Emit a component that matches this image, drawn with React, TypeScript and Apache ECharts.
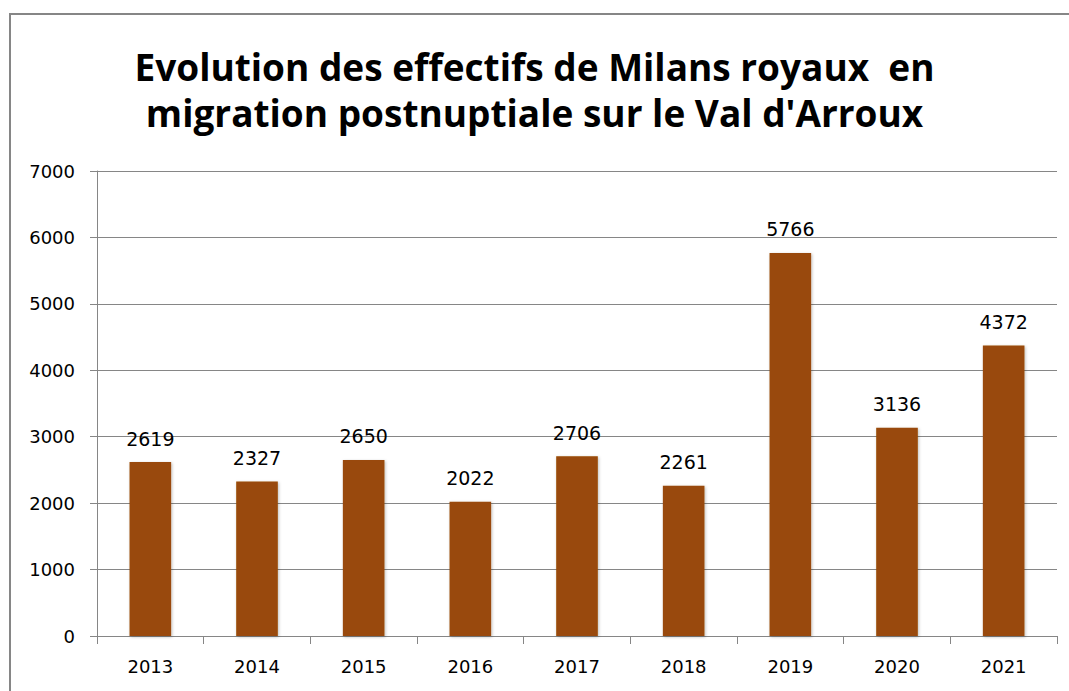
import React, { useEffect, useRef } from "react";
import * as echarts from "echarts";

const categories = ["2013", "2014", "2015", "2016", "2017", "2018", "2019", "2020", "2021"];
const values = [2619, 2327, 2650, 2022, 2706, 2261, 5766, 3136, 4372];
const titleLines = ["Evolution des effectifs de Milans royaux  en", "migration postnuptiale sur le Val d'Arroux"];

export default function App() {
  const ref = useRef<HTMLDivElement>(null);
  useEffect(() => {
    const chart = echarts.init(ref.current!, null, { renderer: "svg" });
    chart.setOption({
      animation: false,
      backgroundColor: "#ffffff",
      title: {
        text: titleLines.join("\n"),
        left: "center",
        top: 38,
        textStyle: {
          fontFamily: "Open Sans",
          fontWeight: "bold",
          fontSize: 37,
          lineHeight: 46,
          color: "#000000",
        },
      },
      graphic: [
        {
          type: "rect",
          shape: { x: 10, y: 14, width: 1100, height: 720 },
          style: { fill: "none", stroke: "#868686", lineWidth: 2 },
          silent: true,
        },
      ],
      grid: { left: 97, right: 12, top: 171, bottom: 55, containLabel: false },
      xAxis: {
        type: "category",
        data: categories,
        axisLine: { show: true, lineStyle: { color: "#868686", width: 1 } },
        axisTick: { show: true, alignWithLabel: false, length: 8, lineStyle: { color: "#868686" } },
        axisLabel: { color: "#000", fontFamily: "DejaVu Sans", fontSize: 18, margin: 21 },
      },
      yAxis: {
        type: "value",
        min: 0,
        max: 7000,
        interval: 1000,
        axisLine: { show: true, lineStyle: { color: "#868686", width: 1 } },
        axisTick: { show: true, length: 7, lineStyle: { color: "#868686" } },
        axisLabel: {
          color: "#000",
          fontFamily: "DejaVu Sans",
          fontSize: 18,
          margin: 22,
          formatter: (v: number) => String(v),
        },
        splitLine: { show: true, lineStyle: { color: "#868686", width: 1 } },
      },
      series: [
        {
          type: "bar",
          data: values,
          barWidth: "39%",
          itemStyle: {
            color: "#994a08",
            shadowColor: "rgba(0,0,0,0.25)",
            shadowBlur: 3,
            shadowOffsetX: 1,
            shadowOffsetY: 1,
          },
          label: {
            show: true,
            position: "top",
            distance: 14,
            color: "#000",
            fontFamily: "DejaVu Sans",
            fontSize: 19,
          },
        },
      ],
    });
    return () => chart.dispose();
  }, []);
  return (
    <div
      ref={ref}
      style={{ position: "fixed", left: 0, top: 0, width: 1069, height: 691 }}
    />
  );
}
